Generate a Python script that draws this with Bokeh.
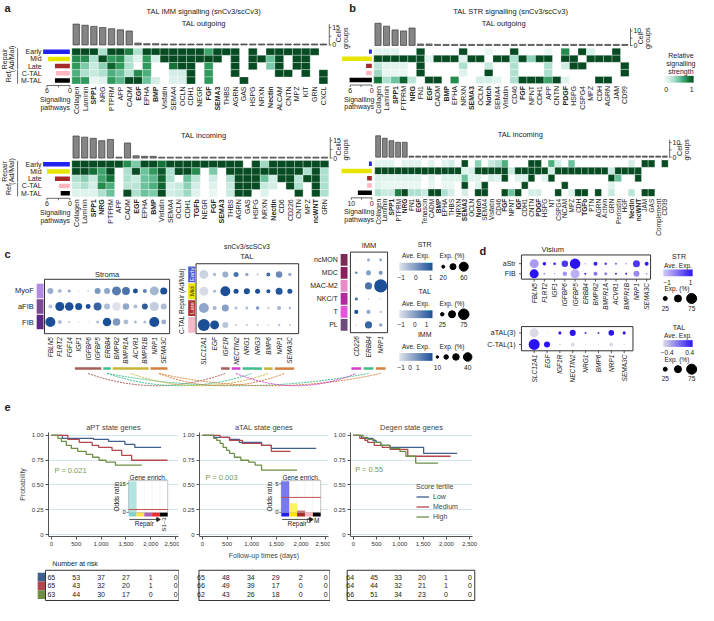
import numpy as np
from math import pi
from bokeh.plotting import figure
from bokeh.models import (Range1d, ColumnDataSource, LinearColorMapper, FixedTicker,
                          NumeralTickFormatter, Legend, LegendItem)
from bokeh.layouts import row, column
from bokeh.transform import linear_cmap
from bokeh.core.properties import value
from bokeh.embed import file_html
from bokeh.resources import INLINE

# ======================= DATA =======================
ROW_GROUPS = ["Early", "Mid", "Late", "C-TAL", "M-TAL"]
ROW_COLORS = ["#2323f0", "#e6e600", "#a52a2a", "#ffb6c1", "#000000"]

# ---- panel a : TAL IMM signalling, outgoing
A_OUT_PATHWAYS = ["Collagen", "Laminin", "SPP1", "NRG", "PTPRM", "APP", "CADM", "EGF", "EPHA", "BMP",
                  "Visfatin", "SEMA4", "OCLN", "CDH1", "NEGR", "FGF", "SEMA3", "THBS", "AGRN", "GAS",
                  "HSPG", "NRXN", "Nectin", "ALCAM", "CNTN", "MPZ", "KIT", "GRN", "CXCL"]
A_OUT_BOLD = ["SPP1", "EGF", "BMP", "FGF", "SEMA3", "Nectin"]
A_OUT_CELL_GROUPS = [18, 17, 16, 15, 14, 13, 12, 1.6, 1.1, 1.1, 0.8, 0.8, 0.8, 0.8, 0.8, 0.8, 0.8, 0.8,
                     0.8, 0.8, 0.8, 0.8, 0.8, 0.8, 0.8, 0.8, 0.8, 0.8, 0.8]
A_OUT_EARLY = [1, 1, 1, .3, 1, 1, .8, .3, 1, 1, 1, 1, 1, 1, 1, .65, 1, 1, 1, 0, 1, 0, 1, 1, 1, 1, 1, 1, 0]
A_OUT_MID = [.75, .75, .3, 1, .7, .75, .3, .1, .7, .15, 1, 1, 1, 1, 1, 1, 1, 0, 1, 0, 1, 1, .5, 1, 0, 1, 1, 0, 0]
A_OUT_LATE = [.7, .45, .2, .4, .9, .7, .3, 0, .7, 0, 0, .85, 1, 1, 0, .7, 0, 0, 1, 0, 1, 0, .45, 1, 0, 1, 1, 0, 0]
A_OUT_CTAL = [.6, .3, .2, .3, .6, .5, .25, .75, .6, 0, 0, .15, .15, 1, 0, .7, 0, 0, 1, 0, 0, 0, 0, 1, 1, 0, 1, 0, 1]
A_OUT_MTAL = [.7, .7, .05, .1, .7, .55, 1, 1, .5, .15, 0, .12, .12, 1, 0, .7, 0, 0, 0, 1, 0, 0, 0, 0, 0, 0, 0, 0, 1]
A_OUT_SIGNALLING = [7.0, 5.7, 3.9, 3.6, 3.9]

# ---- panel a : incoming
A_IN_PATHWAYS = ["Collagen", "Laminin", "SPP1", "NRG", "PTPRM", "APP", "CADM", "EGF", "EPHA", "BMP",
                 "Visfatin", "SEMA4", "OCLN", "CDH1", "TGFb", "NEGR", "FGF", "SEMA3", "THBS", "AGRN",
                 "GAS", "HSPG", "NRXN", "Nectin", "CD6", "CD226", "CNTN", "MPZ", "ncWNT", "GRN"]
A_IN_BOLD = ["SPP1", "NRG", "EGF", "BMP", "TGFb", "FGF", "SEMA3", "Nectin", "ncWNT"]
A_IN_CELL_GROUPS = [19, 18, 17, 15, 16, 0.8, 13, 2, 1.5, 1.5, 0.8, 0.8, 0.8, 0.8, 0.8, 0.8, 0.8, 0.8,
                    0.8, 0.8, 0.8, 0.8, 0.8, 0.8, 0.8, 0.8, 0.8, 0.8, 0.8, 0.8]
A_IN_EARLY = [1, 1, 1, 1, 1, 1, .75, .45, 1, 1, .85, 1, 1, 1, 1, 1, 1, 1, 1, 1, 0, 1, .35, 1, 1, 1, 1, 1, 1, 1]
A_IN_MID = [1, 1, .85, .65, 1, 0, .3, 1, .5, .7, .95, .3, 1, 1, .75, 0, .45, 0, 1, 1, 1, 1, 1, 1, 1, 1, 1, .3, 1, .3]
A_IN_LATE = [.3, .4, .2, .65, .85, 0, .3, .2, .5, .55, .9, .3, 0, .5, .25, 0, .15, 0, .3, 1, 1, 1, .5, .15, 1, 1, .25, 1, 1, .3]
A_IN_CTAL = [.2, .3, .15, .75, .6, 0, .25, .25, .5, .6, .9, .15, .2, .4, .15, 0, .1, 0, .2, 1, 1, 1, .2, .15, 0, 1, .3, 0, 1, .3]
A_IN_MTAL = [.1, .1, .1, .3, .5, 0, 1, .3, .5, .45, 1, .15, .2, .35, .1, 0, .05, 0, .2, 1, 1, 0, .1, 0, 0, 0, 1, 0, 1, .3]
A_IN_SIGNALLING = [7.0, 6.0, 3.9, 2.9, 2.4]

# ---- panel b : TAL STR signalling, outgoing
B_OUT_PATHWAYS = ["Collagen", "Laminin", "SPP1", "PTPRM", "NRG", "FN1", "EGF", "CADM", "BMP", "EPHA",
                  "NRXN", "SEMA3", "OCLN", "Notch", "SEMA4", "Visfatin", "CD46", "FGF", "NPNT", "CDH1",
                  "APP", "CNTN", "PDGF", "HSPG", "CSPG4", "MPZ", "CDH", "AGRN", "JAM", "CD99"]
B_OUT_BOLD = ["SPP1", "NRG", "EGF", "BMP", "SEMA3", "Notch", "FGF", "PDGF"]
B_OUT_CELL_GROUPS = [15.3, 13.3, 10.7, 10, 12, 1, 1, 0.7, 0.7, 0.7, 0.7, 0.7, 0.7, 0.7, 0.7, 0.7, 0.7,
                     0.7, 0.7, 0.7, 0.7, 0.7, 0.7, 0.7, 0.7, 0.7, 0.7, 0.7, 0.7, 0.7]
B_OUT_EARLY = [.08, .08, .08, 0, 0, 1, 0, 0, 0, 0, 1, 0, 0, .05, 0, 0, 1, 0, 0, 0, .05, 0, .75, 0, 1, .12, 0, 0, 1, 0]
B_OUT_MID = [1, 1, 1, 1, 1, 1, .08, 1, 1, 1, .1, 1, 1, 0, 1, 1, .3, 1, .4, 1, 1, 0, 1, 1, 0, 1, 1, 1, 1, 0]
B_OUT_LATE = [.25, .08, .08, .08, 0, 1, 0, 0, 0, 0, .3, 0, 0, .2, 0, 0, .3, 0, 0, 0, .3, 0, .15, 1, 1, 0, 0, 0, 0, 1]
B_OUT_CTAL = [.35, .05, .05, .05, 0, 1, 0, 0, 0, 0, .1, 0, 0, 1, 0, 0, .3, 0, 0, 0, .3, 0, 0, 0, 0, 0, 0, 0, 0, 1]
B_OUT_MTAL = [.85, .3, .5, .9, .25, 0, 1, 1, 0, .75, 0, 0, .15, .15, .08, 0, .3, 1, 1, 1, .65, 1, .1, 0, 0, 0, 1, 1, 0, 0]
B_OUT_SIGNALLING = [0.8, 8.3, 1.6, 1.6, 6.2]

# ---- panel b : incoming
B_IN_PATHWAYS = ["Collagen", "Laminin", "SPP1", "PTPRM", "NRG", "FN1", "EGF", "Tenascin", "CADM", "BMP",
                 "EPHA", "THBS", "NRXN", "SEMA3", "OCLN", "Notch", "SEMA4", "Visfatin", "CD46", "FGF",
                 "NPNT", "IGF", "CDH1", "CNTN", "PDGF", "HSPG", "NT", "CSPG4", "NCAM", "MPZ",
                 "CDH", "TGFb", "PTN", "AGRN", "Activin", "GRN", "Periostin", "HGF", "Nectin", "ncWNT",
                 "JAM", "GAS", "Complement", "CD39"]
B_IN_BOLD = ["SPP1", "NRG", "EGF", "BMP", "SEMA3", "Notch", "FGF", "IGF", "PDGF", "TGFb", "Nectin", "ncWNT"]
B_IN_CELL_GROUPS = [14.7, 13, 11.3, 10.2, 10.2, 0.7, 0.7, 0.7, 0.7, 0.7, 0.7, 0.7, 0.7, 0.7, 0.7, 0.7,
                    0.7, 0.7, 0.7, 0.7, 0.7, 0.7, 0.7, 0.7, 0.7, 0.7, 0.7, 0.7, 0.7, 0.7, 0.7, 0.7,
                    0.7, 0.7, 0.7, 0.7, 0.7, 0.7, 0.7, 0.7, 0.7, 0.7, 0.7, 0.7]
B_IN_EARLY = [.08, .08, .08, 0, .08, .08, .08, 0, .08, 0, .08, .15, 0, 1, 0, .4, 0, .2, .3, .6,
              0, 0, 0, 1, 1, 0, .6, .15, 0, .5, 0, 0, 0, 0, 0, 0, 0, 0, .15, 0, 1, 1, 0, 1]
B_IN_MID = [1, 1, 1, 1, 1, 1, 1, 1, 1, 1, 1, 1, 1, .1, .15, 1, 1, 1, 1, 1,
            .2, 1, 1, 1, 1, 1, .15, 1, 1, 1, 1, 1, 1, 1, 1, .2, 1, 1, 1, 1, 0, 0, 0, 0]
B_IN_LATE = [.12, .1, .1, .1, .1, .1, .1, 0, .1, 0, .1, .1, .1, .5, .1, .1, 0, .15, .1, 1,
             0, .1, .1, 1, 0, .1, 1, 0, 0, 0, 0, 0, 0, 0, 0, 1, .5, 0, 0, 1, 0, 0, 0, 0]
B_IN_CTAL = [.1, .05, .05, .05, .05, .05, .05, 0, .05, 0, .05, .05, 0, 1, 0, .1, 1, 0, 0, 0,
             0, 0, 1, 0, 0, 0, 0, 0, 1, 0, 0, 0, 0, 0, 0, .1, 0, 0, 0, 0, 0, 0, 0, 0]
B_IN_MTAL = [.3, .2, .2, .8, 1, .3, .3, .2, 1, 1, .3, .15, 0, .15, 0, 1, 1, 0, 0, 1,
             .5, 1, 0, .15, .15, 0, 0, 1, 0, .1, 1, 1, 0, 1, 0, .2, 0, 0, .25, 0, 1, 1, 0, 0]
B_IN_SIGNALLING = [1.4, 16, 2.3, 2.3, 6.8]

# ---- panel c : dot plots (Exp. % and Ave. Exp.)
STR_ROWS = ["MyoF", "aFIB", "FIB"]
STR_ROW_COLORS = ["#b48be3", "#7b4a93", "#5b2b84"]
STR_GENES = ["FBLN5", "FLRT2", "FGF14", "IGF1", "IGFBP6", "IGFBP5", "ERBB4", "BMPR2", "BMPR1A",
             "ACVR1", "BMPR1B", "NRP1", "SEMA3C"]
STR_PCT = [[40, 27, 20, 7, 10, 40, 40, 60, 53, 33, 27, 60, 47],
           [27, 60, 57, 47, 33, 53, 40, 57, 43, 27, 40, 60, 40],
           [67, 27, 13, 7, 7, 20, 57, 50, 33, 20, 20, 67, 33]]
STR_AVE = [[-0.3, -0.5, -0.2, -0.5, -0.5, 0, -0.2, 0.4, 0.5, 1, 0.3, -0.4, 1],
           [-0.6, 1, 1, 1, 1, 0.7, -0.5, -1, -0.2, -0.5, 0.8, -0.7, -0.5],
           [1, -0.5, -0.5, -0.5, -0.5, -0.5, 1, 0, -0.5, -0.5, -0.5, 1, -0.3]]

TAL_ROWS = ["Early", "Mid", "Late", "C-TAL"]
TAL_ROW_COLORS = ["#4a5bd0", "#f0e000", "#b03030", "#f7b8c8"]
TAL_GENES = ["SLC12A1", "EGF", "IGF1R", "NECTIN2", "NRG1", "NRG3", "BMP6", "NRP1", "SEMA3C"]
TAL_PCT = [[64, 25, 43, 36, 25, 14, 29, 46, 25],
           [64, 21, 71, 36, 43, 36, 29, 50, 36],
           [71, 29, 50, 21, 21, 25, 14, 29, 18],
           [86, 64, 43, 14, 14, 14, 11, 18, 14]]
TAL_AVE = [[-0.8, -0.5, -0.3, 0.5, -0.2, -0.5, 0.6, 0.2, -0.3],
           [-0.9, -0.4, 1, 1, 1, 1, 0.9, 0.9, 0.9],
           [-0.2, -0.4, -0.1, -0.5, -0.5, 0, -0.5, -0.4, -0.5],
           [1, 1, -0.6, -0.6, -0.6, -0.6, -0.6, -0.6, -0.6]]

IMM_ROWS = ["ncMON", "MDC", "MAC-M2", "NKC/T", "T", "PL"]
IMM_ROW_COLORS = ["#7a2a55", "#8a1f5e", "#e58cc9", "#b22aa0", "#e455dc", "#6f4a7e"]
IMM_GENES = ["CD226", "ERBB4", "NRP1"]
IMM_PCT = [[3, 13, 13], [10, 23, 18], [3, 33, 63], [13, 5, 3], [18, 18, 8], [3, 33, 15]]
IMM_AVE = [[-0.8, -0.3, -0.3], [0.3, -0.1, 0], [-0.8, 0.5, 1], [0.5, -0.5, -0.5], [1, -0.2, -0.5],
           [-0.5, 0.7, -0.2]]

# gene groups (first index, last index) for the coloured connector bars
STR_GROUPS = [(3, 5, "#a5605c"), (6, 6, "#3fbf8c"), (7, 10, "#c8b53a"), (11, 12, "#d4803f")]
TAL_GROUPS = [(2, 2, "#a5605c"), (3, 3, "#d040d0"), (4, 5, "#3fbf8c"), (6, 6, "#c8b53a"), (7, 8, "#d4803f")]
IMM_GROUPS = [(0, 0, "#d040d0"), (1, 1, "#3fbf8c"), (2, 2, "#d4803f")]
LINKS = [("str", 0, "tal", 0), ("str", 1, "tal", 2), ("str", 1, "imm", 1), ("str", 2, "tal", 3),
         ("str", 3, "tal", 4), ("str", 3, "imm", 2), ("tal", 1, "imm", 0)]

# ---- panel d : Visium
VIS_STR_ROWS = ["aStr", "FIB"]
VIS_STR_GENES = ["FBLN5", "FLRT2", "IGF1", "IGFBP6", "IGFBP5", "ERBB4", "BMPR2", "BMPR1A", "ACVR1",
                 "BMPR1B", "NRP1", "SEMA3C"]
VIS_STR_PCT = [[67, 21, 13, 46, 79, 4, 25, 13, 8, 4, 50, 25],
               [67, 8, 4, 29, 67, 8, 25, 17, 8, 8, 42, 8]]
VIS_STR_AVE = [[-0.5, 1, 0.9, 0.6, 1, -0.6, 0.8, 0.5, 0.3, -0.2, 0.6, 0.9],
               [1, -0.4, -0.6, -0.4, -0.7, 0.9, -0.1, -0.2, 0.8, 0.9, -0.3, -0.6]]
VIS_TAL_ROWS = ["aTAL(3)", "C-TAL(1)"]
VIS_TAL_GENES = ["SLC12A1", "EGF", "IGF1R", "NECTIN2", "NRG1", "BMP6", "NRP1", "SEMA3C"]
VIS_TAL_PCT = [[67, 4, 17, 42, 8, 8, 38, 17], [83, 42, 8, 25, 1, 1, 25, 4]]
VIS_TAL_AVE = [[-0.4, -0.4, 0.4, 0.4, 0.3, 0.3, 0.4, 0.4], [0.4, 0.4, -0.4, -0.4, -0.4, -0.4, -0.4, -0.4]]

# ---- panel e : Kaplan-Meier
APT_LOW_T = [0, 220, 850, 1150, 1480, 1680, 2210]
APT_LOW_S = [1, .97, .96, .94, .91, .88, .88]
APT_MED_T = [0, 330, 560, 820, 950, 1220, 1415, 1615, 2340]
APT_MED_S = [1, .96, .93, .90, .88, .85, .80, .75, .75]
APT_HIGH_T = [0, 130, 200, 300, 400, 530, 700, 830, 960, 1100, 1290, 1820]
APT_HIGH_S = [1, .97, .94, .90, .87, .84, .81, .78, .75, .73, .70, .70]
ATAL_LOW_T = [0, 230, 550, 750, 1200, 1400, 2310]
ATAL_LOW_S = [1, .98, .96, .93, .90, .87, .87]
ATAL_MED_T = [0, 360, 550, 810, 1200, 1400, 1790]
ATAL_MED_S = [1, .98, .95, .92, .90, .84, .84]
ATAL_HIGH_T = [0, 230, 290, 360, 420, 490, 550, 650, 780, 940, 1070, 1200, 1920]
ATAL_HIGH_S = [1, .97, .95, .92, .88, .85, .82, .78, .75, .73, .70, .65, .65]
DEGEN_LOW_T = [0, 180, 420, 490, 590, 790, 1510, 2230]
DEGEN_LOW_S = [1, .97, .95, .93, .90, .88, .82, .82]
DEGEN_MED_T = [0, 140, 250, 310, 450, 620, 790, 1170, 2090]
DEGEN_MED_S = [1, .97, .95, .93, .90, .88, .86, .79, .79]
DEGEN_HIGH_T = [0, 210, 310, 450, 590, 790, 1000, 1130, 1340, 1820]
DEGEN_HIGH_S = [1, .98, .96, .93, .90, .87, .84, .79, .72, .72]
P_VALUES = ["P = 0.021", "P = 0.003", "P = 0.55"]
TERTILES = ["Low", "Medium", "High"]
TERTILE_COLORS = ["#3f5f8f", "#b2474f", "#6e8f45"]
DAYS = [0, 500, 1000, 1500, 2000, 2500]
RISK_APT = [[65, 53, 37, 27, 1, 0], [65, 43, 32, 20, 1, 0], [63, 44, 30, 17, 0, 0]]
RISK_ATAL = [[65, 48, 34, 29, 2, 0], [66, 49, 39, 17, 0, 0], [62, 43, 26, 18, 0, 0]]
RISK_DEGEN = [[64, 45, 33, 20, 1, 0], [64, 44, 32, 21, 1, 0], [66, 51, 34, 23, 0, 0]]
ENRICH_APT = [16, 0, 0, 0, 0]
ENRICH_APT_COLORS = ["#7fd3cf", "#ffe24a", "#b05fb2", "#ee2a2f", "#000000"]
ENRICH_APT_LINE = 1.5
ENRICH_ATAL = [5.4, 1.6, 0.35, 0.05, 0.05]
ENRICH_ATAL_COLORS = ["#2020e6", "#ffe600", "#a52a2a", "#ffb6c1", "#000000"]
ENRICH_ATAL_LINE = 2.6

# ======================= HELPERS =======================
SX = 698 / 714
SY = 601 / 621
FONT = "Liberation Sans"
INK = "#222222"


def mix(stops, n=128):
    xs = [s[0] for s in stops]
    rgb = [[int(s[1][k:k + 2], 16) for k in (1, 3, 5)] for s in stops]
    out = []
    for t in np.linspace(0, 1, n):
        c = [int(round(np.interp(t, xs, [q[k] for q in rgb]))) for k in range(3)]
        out.append("#%02x%02x%02x" % tuple(c))
    return out


HEAT_PAL = mix([(0, "#f3fbf8"), (0.15, "#d2eee6"), (0.3, "#aee0cf"), (0.5, "#6cc39e"),
                (0.7, "#2f9a5c"), (0.85, "#137237"), (1, "#064b22")])
C_PAL = mix([(0, "#dfe2ea"), (1, "#1b4f97")])
D_PAL = mix([(0, "#d6c9f4"), (1, "#2a14f4")])
D_PAL2 = mix([(0, "#dcdae6"), (1, "#2a14f4")])


def lin(m, v):
    a, pa, b, pb = m
    return a + (v - pa) * (b - a) / (pb - pa)


def inv(m, v):
    a, pa, b, pb = m
    return pa + (v - a) * (pb - pa) / (b - a)


def txt(p, x, y, s, size=7, align="center", base="middle", angle=0, style="normal", color=INK, **kw):
    if isinstance(s, str):
        x, y, s = [x], [y], [s]
    else:
        n = len(s)
        x = list(x) if hasattr(x, "__len__") else [x] * n
        y = list(y) if hasattr(y, "__len__") else [y] * n
    return p.text(x=x, y=y, text=list(s), angle=angle, text_font=value(FONT),
                  text_font_size=f"{size}px", text_align=align, text_baseline=base,
                  text_font_style=style, text_color=color, **kw)


class Cv:
    def __init__(self, box, xm, ym):
        self.box, self.xm, self.ym = box, xm, ym
        x0, y0, x1, y1 = box
        w = round(x1 * SX) - round(x0 * SX)
        h = round(y1 * SY) - round(y0 * SY)
        p = figure(width=w, height=h, x_range=Range1d(lin(xm, x0), lin(xm, x1)),
                   y_range=Range1d(lin(ym, y1), lin(ym, y0)), output_backend="svg",
                   toolbar_location=None, x_axis_location=None, y_axis_location=None,
                   min_border=0, min_border_left=0, min_border_right=0, min_border_top=0,
                   min_border_bottom=0)
        p.outline_line_color = None
        p.xgrid.visible = False
        p.ygrid.visible = False
        self.p = p

    def X(self, px):
        return lin(self.xm, px)

    def Y(self, py):
        return lin(self.ym, py)

    def ex(self, name, m):
        x0, _, x1, _ = self.box
        self.p.extra_x_ranges[name] = Range1d(lin(m, x0), lin(m, x1))

    def ey(self, name, m):
        _, y0, _, y1 = self.box
        self.p.extra_y_ranges[name] = Range1d(lin(m, y1), lin(m, y0))


def colorbar(cv, pal, x0, x1, y0, y1):
    cv.p.image(image=[np.linspace(0, 1, 64).reshape(1, 64)], x=cv.X(x0), y=cv.Y(y1),
               dw=cv.X(x1) - cv.X(x0), dh=cv.Y(y0) - cv.Y(y1),
               color_mapper=LinearColorMapper(palette=pal, low=0, high=1))


def heat_panel(box, cols, bold, rows, bars, side, hx, hy, bar0, bar_t, bar_tick,
               side0, side_t, side_tick, title, title_xy, cell_labels, sig_x, fs=7):
    N = len(cols)
    cv = Cv(box, (0, hx[0], N, hx[1]), (0, hy[1], 5, hy[0]))
    p = cv.p
    xs, ys, vs = [], [], []
    for r, vals in enumerate(rows):
        for i, v in enumerate(vals):
            if v > 0:
                xs.append(i + 0.5)
                ys.append(4.5 - r)
                vs.append(v)
    p.rect(x="x", y="y", width=1, height=1, source=ColumnDataSource(dict(x=xs, y=ys, v=vs)),
           fill_color=linear_cmap("v", HEAT_PAL, 0, 1), line_color="#ffffff", line_width=0.3)
    centers = [i + 0.5 for i in range(N)]
    cv.ey("bars", (0, bar0, bar_tick, bar_t))
    p.vbar(x=centers, top=bars, bottom=0, width=0.72, y_range_name="bars",
           fill_color="#858585", line_color="#3a3a3a", line_width=0.7)
    ax, tk = cv.X(hx[1] + 1.5), cv.X(hx[1] + 3.5)
    p.segment(x0=[ax], y0=[-0.3], x1=[ax], y1=[bar_tick * 1.2], y_range_name="bars",
              line_color="#444444", line_width=0.8)
    p.segment(x0=[ax] * 3, y0=[0, bar_tick / 2, bar_tick], x1=[tk] * 3,
              y1=[0, bar_tick / 2, bar_tick], y_range_name="bars", line_color="#444444", line_width=0.8)
    txt(p, cv.X(hx[1] + 4.5), [0, bar_tick], ["0", str(bar_tick)], size=7, align="left",
        y_range_name="bars")
    cy = (bar0 + bar_t) / 2
    for cx, word in cell_labels:
        txt(p, cv.X(cx), cv.Y(cy), word, size=7, angle=pi / 2)
    cv.ex("side", (0, side0, side_tick, side_t))
    p.hbar(y=[4.5 - r for r in range(5)], left=0, right=side, height=0.62, x_range_name="side",
           fill_color=ROW_COLORS, line_color=None)
    ya, yb = cv.Y(hy[1] + 1.5), cv.Y(hy[1] + 3.5)
    p.segment(x0=[0], y0=[ya], x1=[side_tick], y1=[ya], x_range_name="side",
              line_color="#444444", line_width=0.8)
    p.segment(x0=[0, side_tick / 2, side_tick], y0=[ya] * 3, x1=[0, side_tick / 2, side_tick],
              y1=[yb] * 3, x_range_name="side", line_color="#444444", line_width=0.8)
    txt(p, [0, side_tick], cv.Y(hy[1] + 7), ["0", str(side_tick)], size=7, x_range_name="side")
    txt(p, cv.X(sig_x), cv.Y(hy[1] + 16), "Signalling", size=7)
    txt(p, cv.X(sig_x), cv.Y(hy[1] + 24), "pathways", size=7)
    ly = cv.Y(hy[1] + 2.5)
    nb = [(c, n) for c, n in zip(centers, cols) if n not in bold]
    bb = [(c, n) for c, n in zip(centers, cols) if n in bold]
    txt(p, [c for c, _ in nb], ly, [n for _, n in nb], size=fs, align="right", angle=pi / 2)
    txt(p, [c for c, _ in bb], ly, [n for _, n in bb], size=fs, align="right", angle=pi / 2,
        style="bold")
    txt(p, cv.X(title_xy[0]), cv.Y(title_xy[1]), title, size=7.5)
    return cv


def a_rowlabels(cv):
    p = cv.p
    txt(p, cv.X(42), [4.5 - r for r in range(5)], ROW_GROUPS, size=7, align="right")
    p.segment(x0=[cv.X(17.5)] * 2, y0=[4.95, 1.95], x1=[cv.X(17.5)] * 2, y1=[2.05, 0.05],
              line_color="#444444", line_width=0.8)
    txt(p, cv.X(4.5), 3.5, "Repair", size=7, angle=pi / 2)
    txt(p, cv.X(11.5), 3.5, "(Ad/Mal)", size=7, angle=pi / 2)
    txt(p, cv.X(8), 1.0, "Ref", size=7, angle=pi / 2)


def dots(p, rows_pct, rows_ave, row_y, size_fn, pal, lo, hi, **kw):
    X, Y, S, V = [], [], [], []
    for ry, pcts, aves in zip(row_y, rows_pct, rows_ave):
        for i, (pc, av) in enumerate(zip(pcts, aves)):
            X.append(i)
            Y.append(ry)
            S.append(size_fn(pc))
            V.append(av)
    p.scatter(x="x", y="y", size="s", source=ColumnDataSource(dict(x=X, y=Y, s=S, v=V)),
              fill_color=linear_cmap("v", pal, lo, hi), line_color=None, **kw)


def box(cv, x0, x1, y0, y1, **kw):
    cv.p.quad(left=[cv.X(x0)], right=[cv.X(x1)], bottom=[cv.Y(y1)], top=[cv.Y(y0)],
              fill_color=None, line_color="#333333", line_width=1, **kw)


def groups_bar(cv, groups, py):
    for a, b, col in groups:
        cv.p.segment(x0=[a - 0.4], y0=[cv.Y(py)], x1=[b + 0.4], y1=[cv.Y(py)], line_color=col,
                     line_width=2.5)


def c_legend(cv, name, ty, ticks, circ, clabels, size_fn):
    p = cv.p
    txt(p, cv.X(434), cv.Y(ty), name, size=7)
    txt(p, cv.X(425), cv.Y(ty + 12), "Ave. Exp.", size=6.5)
    txt(p, cv.X(462), cv.Y(ty + 12), "Exp. (%)", size=6.5)
    colorbar(cv, C_PAL, 408, 442, ty + 19, ty + 27)
    txt(p, [cv.X(x) for _, x in ticks], cv.Y(ty + 34), [t for t, _ in ticks], size=6.5)
    p.scatter(x=[cv.X(x) for x, _ in circ], y=[cv.Y(ty + 23)] * len(circ),
              size=[size_fn(v) for _, v in circ], color="#000000")
    txt(p, [cv.X(x) for _, x in clabels], cv.Y(ty + 34), [t for t, _ in clabels], size=6.5)


# ======================= PANEL a / b =======================
AB = 349  # split between panel a and b (reference pixels)
a_out = heat_panel((0, 0, AB, 118), A_OUT_PATHWAYS, A_OUT_BOLD,
                   [A_OUT_EARLY, A_OUT_MID, A_OUT_LATE, A_OUT_CTAL, A_OUT_MTAL],
                   A_OUT_CELL_GROUPS, A_OUT_SIGNALLING, (73, 335), (49.3, 86.5), 46, 28, 15,
                   71, 47.5, 6, "TAL outgoing", (208, 24), [(345.5, "Cell")], 56)
txt(a_out.p, a_out.X(4), a_out.Y(8), "a", size=11, style="bold", align="left")
txt(a_out.p, a_out.X(208), a_out.Y(11), "TAL IMM signalling (snCv3/scCv3)", size=7.5)
a_rowlabels(a_out)

a_in = heat_panel((0, 118, AB, 246), A_IN_PATHWAYS, A_IN_BOLD,
                  [A_IN_EARLY, A_IN_MID, A_IN_LATE, A_IN_CTAL, A_IN_MTAL],
                  A_IN_CELL_GROUPS, A_IN_SIGNALLING, (73, 336), (165.5, 203), 163, 145, 15,
                  71, 47.5, 6, "TAL incoming", (208, 140), [(345.5, "Cell")], 56)
a_rowlabels(a_in)

b_out = heat_panel((AB, 0, 714, 118), B_OUT_PATHWAYS, B_OUT_BOLD,
                   [B_OUT_EARLY, B_OUT_MID, B_OUT_LATE, B_OUT_CTAL, B_OUT_MTAL],
                   B_OUT_CELL_GROUPS, B_OUT_SIGNALLING, (382, 643), (49.3, 86), 46.5, 31.5, 10,
                   380, 358, 6, "TAL outgoing", (515, 24),
                   [(353.5, "groups"), (655, "Cell"), (662, "groups")], 367)
txt(b_out.p, b_out.X(357), b_out.Y(8), "b", size=11, style="bold", align="left")
txt(b_out.p, b_out.X(522), b_out.Y(11), "TAL STR signalling (snCv3/scCv3)", size=7.5)
for word, yy in (("Relative", 57), ("signalling", 65), ("strength", 73)):
    txt(b_out.p, b_out.X(696), b_out.Y(yy), word, size=7)
colorbar(b_out, HEAT_PAL, 679, 709, 78, 85)
txt(b_out.p, [b_out.X(681), b_out.X(707)], b_out.Y(92), ["0", "1"], size=7)

b_in = heat_panel((AB, 118, 714, 246), B_IN_PATHWAYS, B_IN_BOLD,
                  [B_IN_EARLY, B_IN_MID, B_IN_LATE, B_IN_CTAL, B_IN_MTAL],
                  B_IN_CELL_GROUPS, B_IN_SIGNALLING, (383, 683), (165, 202.5), 162, 147, 10,
                  380, 359, 10, "TAL incoming", (532, 139),
                  [(353.5, "groups"), (695, "Cell"), (702, "groups")], 367, fs=6.5)

# ======================= PANEL c =======================
STR_XM = (0, 51, 12, 167)
TAL_XM = (0, 208, 8, 296)
IMM_XM = (0, 364, 2, 389)

cs = Cv((0, 246, 178, 384), STR_XM, (0, 332, 2, 300))
p = cs.p
txt(p, cs.X(4), cs.Y(262), "c", size=11, style="bold", align="left")
txt(p, cs.X(109), cs.Y(283), "Stroma", size=7.5)
box(cs, 45, 173, 288, 344)
sy = [2 - r for r in range(3)]
p.quad(left=cs.X(37), right=cs.X(44), bottom=[y - 0.47 for y in sy], top=[y + 0.47 for y in sy],
       fill_color=STR_ROW_COLORS, line_color=None)
txt(p, cs.X(34), sy, STR_ROWS, size=7.5, align="right")
dots(p, STR_PCT, STR_AVE, sy, lambda v: 0.15 * v, C_PAL, -1, 1)
txt(p, list(range(len(STR_GENES))), cs.Y(347.5), STR_GENES, size=6.5, align="right",
    angle=pi / 2, style="italic")
groups_bar(cs, STR_GROUPS, 380)

ct = Cv((178, 246, 312, 384), TAL_XM, (0, 335, 3, 283))
p = ct.p
txt(p, ct.X(252), ct.Y(254), "snCv3/scSCv3", size=7)
txt(p, ct.X(252), ct.Y(265), "TAL", size=7.5)
box(ct, 200, 305, 272, 344)
ty_ = [3 - r for r in range(4)]
p.quad(left=ct.X(192), right=ct.X(199), bottom=[y - 0.47 for y in ty_],
       top=[y + 0.47 for y in ty_], fill_color=TAL_ROW_COLORS, line_color=None)
for y, lab, col in zip(ty_[:3], TAL_ROWS[:3], ["#ffffff", "#222222", "#ffffff"]):
    txt(p, ct.X(195.5), y, lab, size=6, angle=pi / 2, color=col)
txt(p, ct.X(185.5), 2, "Repair (Ad/Mal)", size=6.5, angle=pi / 2)
txt(p, ct.X(185.5), 0, "C-TAL", size=6.5, angle=pi / 2)
dots(p, TAL_PCT, TAL_AVE, ty_, lambda v: 0.14 * v, C_PAL, -1, 1)
txt(p, list(range(len(TAL_GENES))), ct.Y(347.5), TAL_GENES, size=6.5, align="right",
    angle=pi / 2, style="italic")
groups_bar(ct, TAL_GROUPS, 380)

ci = Cv((312, 246, 485, 384), IMM_XM, (0, 335, 5, 268))
p = ci.p
txt(p, ci.X(377), ci.Y(253), "IMM", size=7.5)
box(ci, 358, 396, 260, 343)
iy = [5 - r for r in range(6)]
p.quad(left=ci.X(348), right=ci.X(355), bottom=[y - 0.45 for y in iy], top=[y + 0.45 for y in iy],
       fill_color=IMM_ROW_COLORS, line_color=None)
txt(p, ci.X(345), iy, IMM_ROWS, size=7, align="right")
dots(p, IMM_PCT, IMM_AVE, iy, lambda v: 0.2 * v + 0.5, C_PAL, -1, 1)
txt(p, list(range(len(IMM_GENES))), ci.Y(346.5), IMM_GENES, size=6.5, align="right",
    angle=pi / 2, style="italic")
groups_bar(ci, IMM_GROUPS, 380)
c_legend(ci, "STR", 252, [("\u22121", 410), ("0", 425), ("1", 440)],
         [(453, 20), (463, 40), (474, 60)], [("20", 453), ("60", 474)], lambda v: 0.15 * v)
c_legend(ci, "TAL", 301, [("\u22121", 410), ("0", 424), ("1", 436)],
         [(452, 25), (462, 50), (474, 75)], [("25", 452), ("75", 474)], lambda v: 0.14 * v)
c_legend(ci, "IMM", 345, [("\u22121", 410), ("0", 419), ("1", 427)],
         [(447, 10), (456, 20), (466, 30), (478, 40)], [("10", 447), ("40", 478)],
         lambda v: 0.2 * v + 0.5)

# connector arcs
ca = Cv((0, 384, 485, 402), (0, 0, 1, 1), (0, 0, -1, 1))
GROUP_SETS = {"str": (STR_GROUPS, STR_XM), "tal": (TAL_GROUPS, TAL_XM), "imm": (IMM_GROUPS, IMM_XM)}
for pa, ga, pb, gb in LINKS:
    g1, m1 = GROUP_SETS[pa]
    g2, m2 = GROUP_SETS[pb]
    xa = inv(m1, (g1[ga][0] + g1[ga][1]) / 2)
    xb = inv(m2, (g2[gb][0] + g2[gb][1]) / 2)
    ca.p.quadratic(x0=[xa], y0=[-385], x1=[xb], y1=[-385], cx=[(xa + xb) / 2], cy=[-411],
                   line_color=g1[ga][2], line_dash="2 1", line_width=1)

# ======================= PANEL d =======================
dv = Cv((485, 246, 714, 402), (0, 546, 11, 661), (0, 0, -1, 1))
dv.ex("tx", (0, 546, 7, 638))
p = dv.p
txt(p, dv.X(490), dv.Y(259), "d", size=11, style="bold", align="left")
txt(p, dv.X(565), dv.Y(257), "Visium", size=7.5)
box(dv, 533, 665, 263, 288)
vs_y = [dv.Y(272), dv.Y(282.5)]
txt(p, dv.X(527), vs_y, VIS_STR_ROWS, size=7, align="right")
p.segment(x0=[dv.X(530.5)] * 2, y0=vs_y, x1=[dv.X(533)] * 2, y1=vs_y, line_color="#333333", line_width=0.8)
dots(p, VIS_STR_PCT, VIS_STR_AVE, vs_y, lambda v: 0.12 * v + 1, D_PAL, -1, 1)
ng = len(VIS_STR_GENES)
p.segment(x0=list(range(ng)), y0=[dv.Y(288)] * ng, x1=list(range(ng)), y1=[dv.Y(290.5)] * ng,
          line_color="#333333", line_width=0.8)
txt(p, list(range(ng)), dv.Y(292), VIS_STR_GENES, size=6.5, align="right", angle=pi / 2, style="italic")

box(dv, 533, 647, 337, 362)
vt_y = [dv.Y(343.5), dv.Y(355.5)]
txt(p, dv.X(527), vt_y, VIS_TAL_ROWS, size=7, align="right")
p.segment(x0=[dv.X(530.5)] * 2, y0=vt_y, x1=[dv.X(533)] * 2, y1=vt_y, line_color="#333333", line_width=0.8)
dots(p, VIS_TAL_PCT, VIS_TAL_AVE, vt_y, lambda v: 0.12 * v + 1, D_PAL2, -0.4, 0.4, x_range_name="tx")
nt = len(VIS_TAL_GENES)
p.segment(x0=list(range(nt)), y0=[dv.Y(362)] * nt, x1=list(range(nt)), y1=[dv.Y(364.5)] * nt,
          line_color="#333333", line_width=0.8, x_range_name="tx")
txt(p, list(range(nt)), dv.Y(366), VIS_TAL_GENES, size=6.5, align="right", angle=pi / 2,
    style="italic", x_range_name="tx")


def d_legend(name, ty, pal, ticks):
    txt(p, dv.X(694), dv.Y(ty), name, size=7)
    txt(p, dv.X(693), dv.Y(ty + 8.5), "Ave. Exp.", size=6.5)
    colorbar(dv, pal, 678, 708, ty + 13, ty + 20)
    txt(p, [dv.X(x) for _, x in ticks], dv.Y(ty + 26), [t for t, _ in ticks], size=6.5)
    txt(p, dv.X(692), dv.Y(ty + 33), "Exp. (%)", size=6.5)
    p.scatter(x=[dv.X(680), dv.X(693), dv.X(707)], y=[dv.Y(ty + 43)] * 3,
              size=[0.12 * v + 1 for v in (25, 50, 75)], color="#000000")
    txt(p, [dv.X(680), dv.X(707)], dv.Y(ty + 53), ["25", "75"], size=6.5)


d_legend("STR", 265, D_PAL, [("\u22121", 682), ("1", 706)])
d_legend("TAL", 338, D_PAL2, [("\u22120.4", 682), ("0.4", 705)])

# ======================= PANEL e =======================
es = Cv((0, 402, 714, 430), (0, 0, 1, 1), (0, 0, -1, 1))
txt(es.p, 4, -420, "e", size=11, style="bold", align="left")

KM_H = round(580 * SY) - round(430 * SY)


def inset(p, d0, d1, top, vals, cols, hline, toplab, extra):
    mx = (-0.5, d0, 4.5, d1)
    my = (0, 0.223, top, 0.544)
    p.extra_x_ranges["ix"] = Range1d(lin(mx, -60), lin(mx, 2560))
    p.extra_y_ranges["iy"] = Range1d(lin(my, -0.02), lin(my, 1.03))
    kw = dict(x_range_name="ix", y_range_name="iy")
    p.quad(left=[-0.5], right=[4.5], bottom=[0], top=[top], fill_color="#ffffff",
           line_color="#999999", line_width=0.6, **kw)
    p.segment(x0=[0.5, 1.5, 2.5, 3.5], y0=[0] * 4, x1=[0.5, 1.5, 2.5, 3.5], y1=[top] * 4,
              line_color="#ececec", line_width=0.6, **kw)
    p.vbar(x=list(range(5)), top=[min(v, top) for v in vals], bottom=0, width=1,
           fill_color=cols, fill_alpha=0.6, line_color=None, **kw)
    p.segment(x0=[-0.5], y0=[hline], x1=[4.5], y1=[hline], line_color="#c0504d", line_width=1, **kw)
    p.segment(x0=[-0.5, -0.5], y0=[0, toplab], x1=[-0.75, -0.75], y1=[0, toplab],
              line_color="#555555", line_width=0.7, **kw)
    txt(p, -0.85, [0, toplab], ["0", str(toplab)], size=6, align="right", **kw)
    txt(p, -2.0, top / 2, "Odds ratio", size=6.5, angle=pi / 2, **kw)
    txt(p, 2.0, top * 1.1, "Gene enrich.", size=6.5, **kw)
    p.quad(left=[i - 0.5 for i in range(5)], right=[i + 0.5 for i in range(5)],
           bottom=-0.13 * top, top=-0.01 * top, fill_color=cols, line_color=None, **kw)
    p.segment(x0=[-0.4], y0=[-0.22 * top], x1=[3.2], y1=[-0.22 * top], line_color="#222222",
              line_width=0.8, **kw)
    p.scatter(x=[3.25], y=[-0.22 * top], marker="triangle", angle=-pi / 2, size=4,
              color="#222222", **kw)
    txt(p, 1.5, -0.36 * top, "Repair", size=6.5, **kw)
    extra(p, kw, top)


def km_panel(bx, z0, z1, title, curves, pval, pv_pos, ylabel=None, xlabel=None,
             legend=False, ins=None):
    x0, x1 = bx
    W = round(x1 * SX) - round(x0 * SX)
    ppd = (z1 - z0) / 2500
    fl, fr = z0 - 60 * ppd, z1 + 60 * ppd
    p = figure(width=W, height=KM_H, x_range=Range1d(-60, 2560), y_range=Range1d(-0.02, 1.03),
               output_backend="svg", toolbar_location=None, title=title,
               min_border_left=round((fl - x0) * SX), min_border_right=max(0, round((x1 - fr) * SX)),
               min_border_top=round(17 * SY), min_border_bottom=round(25 * SY))
    p.title.text_font = FONT
    p.title.text_font_size = "7.5px"
    p.title.text_font_style = "normal"
    p.title.align = "center"
    p.title.standoff = 2
    p.xaxis.ticker = FixedTicker(ticks=DAYS)
    p.xaxis.formatter = NumeralTickFormatter(format="0,0")
    p.yaxis.ticker = FixedTicker(ticks=[0, 0.25, 0.5, 0.75, 1.0])
    p.yaxis.major_label_overrides = {0: "0", 0.25: "0.25", 0.5: "0.50", 0.75: "0.75", 1: "1.00"}
    for a in p.axis:
        a.axis_line_color = "#555555"
        a.major_tick_line_color = "#555555"
        a.minor_tick_line_color = None
        a.major_tick_in = 0
        a.major_tick_out = 3
        a.major_label_standoff = 2
        a.major_label_text_font = FONT
        a.major_label_text_font_size = "6px"
        a.major_label_text_color = "#333333"
        a.axis_label_text_font = FONT
        a.axis_label_text_font_size = "7px"
        a.axis_label_text_font_style = "normal"
        a.axis_label_standoff = 3
    if ylabel:
        p.yaxis.axis_label = ylabel
    if xlabel:
        p.xaxis.axis_label = xlabel
    p.xgrid.visible = False
    p.ygrid.grid_line_color = "#d5e3ea"
    p.outline_line_color = None
    if ins:
        inset(p, *ins)
    rs = []
    for (t, s), col in zip(curves, TERTILE_COLORS):
        rs.append(p.step(x=t, y=s, mode="after", line_color=col, line_width=1.3))
    txt(p, pv_pos[0], pv_pos[1], pval, size=7.5, align="left", color="#7a9a4a")
    if legend:
        lg = Legend(items=[LegendItem(label=lab, renderers=[r]) for lab, r in zip(TERTILES, rs)],
                    location=(round(68 * SX), round(16 * SY)), title="Score tertile")
        lg.title_text_font = FONT
        lg.title_text_font_size = "7px"
        lg.title_text_font_style = "normal"
        lg.label_text_font = FONT
        lg.label_text_font_size = "7px"
        lg.label_height = 9
        lg.glyph_height = 9
        lg.glyph_width = 13
        lg.spacing = 1
        lg.padding = 2
        lg.margin = 0
        lg.label_standoff = 4
        lg.title_standoff = 2
        lg.border_line_color = None
        lg.background_fill_alpha = 0
        p.add_layout(lg)
    return p


def extra_apt(p, kw, top):
    txt(p, 4, -0.16 * top, "S1\u20133", size=6, angle=pi / 2, align="right", **kw)


def extra_atal(p, kw, top):
    txt(p, [3, 4], -0.26 * top, ["C", "M"], size=6.5, **kw)


km1 = km_panel((0, 183), 52, 179, "aPT state genes",
               [(APT_LOW_T, APT_LOW_S), (APT_MED_T, APT_MED_S), (APT_HIGH_T, APT_HIGH_S)],
               P_VALUES[0], (60, 0.65), ylabel="Probability",
               ins=(1555, 2343, 16.5, ENRICH_APT, ENRICH_APT_COLORS, ENRICH_APT_LINE, 15, extra_apt))
km2 = km_panel((183, 338), 205, 333, "aTAL state genes",
               [(ATAL_LOW_T, ATAL_LOW_S), (ATAL_MED_T, ATAL_MED_S), (ATAL_HIGH_T, ATAL_HIGH_S)],
               P_VALUES[1], (60, 0.58), xlabel="Follow-up times (days)",
               ins=(1602, 2402, 5.5, ENRICH_ATAL, ENRICH_ATAL_COLORS, ENRICH_ATAL_LINE, 5, extra_atal))
km3 = km_panel((338, 500), 358, 480, "Degen state genes",
               [(DEGEN_LOW_T, DEGEN_LOW_S), (DEGEN_MED_T, DEGEN_MED_S), (DEGEN_HIGH_T, DEGEN_HIGH_S)],
               P_VALUES[2], (40, 0.66), legend=True)


def risk_table(bx, z0, z1, bx0, bx1, counts, header=False):
    cv = Cv((bx[0], 580, bx[1], 621), (0, z0, 2500, z1), (0, 614, 2, 596))
    p = cv.p
    box(cv, bx0, bx1, 589, 620)
    for r, vals in enumerate(counts):
        txt(p, DAYS, 2 - r, [str(v) for v in vals], size=7)
    if header:
        txt(p, cv.X(53), cv.Y(582.5), "Number at risk", size=7, align="left")
        p.quad(left=cv.X(38), right=cv.X(45.5), bottom=[2 - r - 0.5 for r in range(3)],
               top=[2 - r + 0.5 for r in range(3)], fill_color=TERTILE_COLORS, line_color=None)
    return p


t1 = risk_table((0, 183), 52, 179, 46, 182.5, RISK_APT, header=True)
t2 = risk_table((183, 338), 205, 333, 203, 337.5, RISK_ATAL)
t3 = risk_table((338, 500), 358, 480, 355, 485, RISK_DEGEN)

layout = column(
    row(a_out.p, b_out.p),
    row(a_in.p, b_in.p),
    row(column(row(cs.p, ct.p, ci.p), ca.p), dv.p),
    es.p,
    row(km1, km2, km3),
    row(t1, t2, t3),
)

open("out.html", "w").write(file_html(layout, INLINE))
